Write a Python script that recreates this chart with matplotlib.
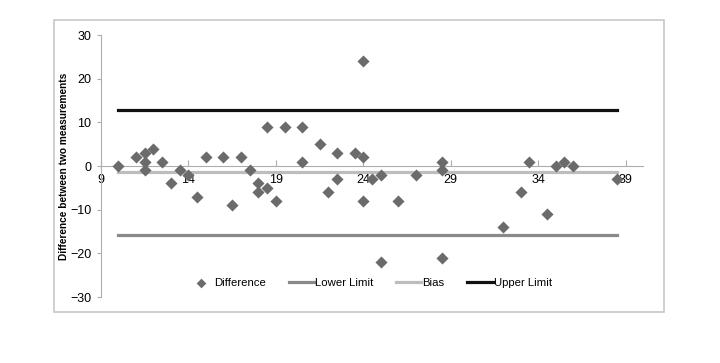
import matplotlib
matplotlib.use('Agg')
import matplotlib.pyplot as plt
from matplotlib.patches import Rectangle

plt.rcParams['font.family'] = ['Liberation Sans', 'DejaVu Sans']

# Average of the two measurements (x) and their difference (y)
avg = [10, 11, 11.5, 11.5, 11.5, 12, 12.5, 13, 13.5, 14, 14.5, 15, 16, 16.5, 17, 17.5,
       18, 18, 18.5, 18.5, 19, 19.5, 20.5, 20.5, 21.5, 22, 22.5, 22.5, 23.5, 24, 24, 24,
       24.5, 25, 25, 26, 27, 28.5, 28.5, 28.5, 32, 33, 33.5, 34.5, 35, 35.5, 36, 38.5]
diff = [0, 2, 3, 1, -1, 4, 1, -4, -1, -2, -7, 2, 2, -9, 2, -1,
        -4, -6, -5, 9, -8, 9, 9, 1, 5, -6, 3, -3, 3, 24, 2, -8,
        -3, -2, -22, -8, -2, 1, -1, -21, -14, -6, 1, -11, 0, 1, 0, -3]

bias = -1.4
lower_limit = -15.7
upper_limit = 12.9

x_ticks = [9, 14, 19, 24, 29, 34, 39]
y_ticks = [-30, -20, -10, 0, 10, 20, 30]

fig = plt.figure(figsize=(7.2, 3.63), dpi=100)
ax = fig.add_axes([101 / 720, 1 - 297 / 363, 542 / 720, 262 / 363])

# outer chart border
fig.patches.append(Rectangle((54 / 720, 1 - 312 / 363), 610 / 720, 292 / 363,
                             transform=fig.transFigure, fill=False,
                             edgecolor='#c8c8c8', linewidth=1.2))

x_span = [min(avg), max(avg)]
ax.scatter(avg, diff, marker='D', s=38, color='#6b6b6b', zorder=3, label='Difference',
           linewidths=0)
ax.plot(x_span, [lower_limit] * 2, color='#8a8a8a', linewidth=2.3, label='Lower Limit')
ax.plot(x_span, [bias] * 2, color='#bdbdbd', linewidth=2.3, label='Bias')
ax.plot(x_span, [upper_limit] * 2, color='#111111', linewidth=2.3, label='Upper Limit')

ax.set_xlim(9, 40)
ax.set_ylim(-30, 30)
ax.set_xticks(x_ticks)
ax.set_yticks(y_ticks)

for s in ['top', 'right']:
    ax.spines[s].set_visible(False)
ax.spines['bottom'].set_position(('data', 0))
ax.spines['bottom'].set_color('#adadad')
ax.spines['left'].set_color('#adadad')
ax.tick_params(axis='x', direction='in', length=4, color='#adadad', labelsize=9, pad=6)
ax.tick_params(axis='y', direction='out', length=3, color='#adadad', labelsize=9, pad=4)

ax.set_ylabel('Difference between two measurements', fontsize=7.3, fontweight='bold',
              labelpad=1)

ax.legend(loc='center', bbox_to_anchor=(370 / 720, 1 - 283 / 363),
          bbox_transform=fig.transFigure, ncol=4, frameon=False, fontsize=8.2,
          handlelength=2.2, handletextpad=0.1, columnspacing=2.0, markerscale=0.8)

fig.savefig('out.png', dpi=100)
